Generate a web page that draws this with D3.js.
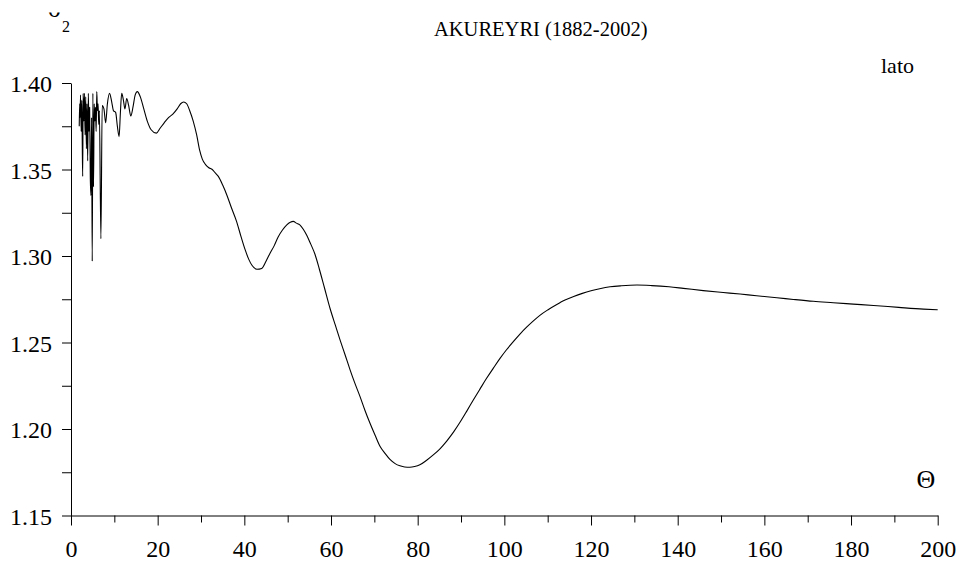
<!DOCTYPE html>
<html>
<head>
<meta charset="utf-8">
<script src="https://cdn.jsdelivr.net/npm/d3@7"></script>
<style>
  body { margin: 0; background: #fff; }
  text { font-family: "Liberation Serif", "Times New Roman", serif; fill: #000; }
</style>
</head>
<body>
<svg id="chart" width="959" height="562"></svg>
<script>
// Lag Θ and the estimated σ₂ for the Akureyri record
const theta = [
  1.9, 2.0, 2.1, 2.2, 2.35, 2.5, 2.6, 2.7, 2.8, 2.95, 3.1, 3.25, 3.4, 3.55, 3.7, 3.85,
  4.0, 4.15, 4.3, 4.45, 4.6, 4.75, 4.9, 5.05, 5.2, 5.35, 5.5, 5.65, 5.8, 5.95, 6.1, 6.25,
  6.4, 6.55, 6.9, 7.2, 7.6, 8.0, 8.4, 8.9, 9.4, 9.8, 10.3, 10.7, 11.1, 11.4, 11.7, 12.1,
  12.45, 12.85, 13.3, 13.8, 14.3, 14.8, 15.3, 16.0, 16.8, 17.6, 18.5, 19.7, 20.6, 21.5,
  22.5, 23.5, 24.5, 25.3, 26.0, 26.7, 27.4, 28.2, 29.0, 29.7, 30.3, 31.0, 31.8, 32.6,
  33.3, 34.0, 35.0, 36.0, 37.0, 38.2, 39.2, 40.2, 41.0, 41.8, 42.9, 44.0, 45.0, 45.9,
  46.9, 47.8, 48.8, 49.8, 50.6, 51.3, 52.0, 52.8, 53.6, 54.4, 55.3, 56.3, 57.3, 58.5,
  59.8, 61.0, 62.1, 63.3, 64.4, 65.5, 66.7, 67.8, 69.0, 70.2, 71.3, 72.5, 73.6, 74.8,
  75.9, 77.0, 78.2, 79.3, 80.5, 82.0, 83.6, 85.2, 86.7, 88.3, 89.8, 91.3, 92.8, 94.4,
  95.9, 97.5, 99.0, 100.5, 102.1, 103.6, 105.2, 106.7, 108.2, 110, 112, 114, 116, 118,
  120, 122, 124.4, 127, 130.6, 134, 138, 141.3, 145.9, 150.5, 154.4, 158.2, 162.9, 166.7,
  171.3, 175.9, 180.5, 185.2, 191, 196.7, 200
];
const sigma2 = [
  1.375, 1.388, 1.380, 1.393, 1.372, 1.390, 1.365, 1.346, 1.394, 1.378, 1.394, 1.370, 1.392, 1.362, 1.388, 1.355,
  1.394, 1.372, 1.386, 1.346, 1.335, 1.380, 1.297, 1.394, 1.340, 1.388, 1.378, 1.386, 1.372, 1.395, 1.384, 1.388,
  1.376, 1.384, 1.310, 1.387, 1.385, 1.377, 1.388, 1.394, 1.389, 1.384, 1.383, 1.375, 1.369, 1.383, 1.394, 1.390,
  1.385, 1.391, 1.387, 1.381, 1.386, 1.393, 1.395, 1.392, 1.385, 1.378, 1.373, 1.371, 1.374, 1.377,
  1.380, 1.382, 1.385, 1.388, 1.389, 1.388, 1.384, 1.378, 1.370, 1.361, 1.356, 1.353, 1.351, 1.350,
  1.348, 1.346, 1.341, 1.335, 1.328, 1.320, 1.3115, 1.3035, 1.2982, 1.2945, 1.2923, 1.2928, 1.297, 1.3015,
  1.306, 1.311, 1.315, 1.318, 1.3195, 1.320, 1.319, 1.318, 1.3155, 1.312, 1.307, 1.301, 1.2925, 1.2815,
  1.2695, 1.260, 1.2514, 1.2425, 1.2342, 1.2265, 1.2187, 1.211, 1.2033, 1.1962, 1.1900, 1.1858, 1.1824, 1.1800,
  1.1787, 1.1780, 1.1779, 1.1783, 1.1793, 1.1818, 1.1850, 1.1887, 1.1930, 1.1983, 1.2040, 1.2102, 1.2166, 1.2232,
  1.2293, 1.2353, 1.2408, 1.2458, 1.2506, 1.2549, 1.2590, 1.2625, 1.2657, 1.2688, 1.2718, 1.2745, 1.2766, 1.2784,
  1.2799, 1.2811, 1.2822, 1.2828, 1.2832, 1.2829, 1.2822, 1.2813, 1.2800, 1.2789, 1.2780, 1.2770, 1.2759, 1.2749,
  1.2738, 1.2730, 1.2722, 1.2714, 1.2703, 1.2693, 1.2689
];
const xMajorTicks = [0, 20, 40, 60, 80, 100, 120, 140, 160, 180, 200];
const xMinorTicks = [10, 30, 50, 70, 90, 110, 130, 150, 170, 190];
const yTicks = [1.15, 1.175, 1.20, 1.225, 1.25, 1.275, 1.30, 1.325, 1.35, 1.375, 1.40];
const yLabelTicks = [1.15, 1.20, 1.25, 1.30, 1.35, 1.40];

const svg = d3.select("#chart");
const x = d3.scaleLinear().domain([0, 200]).range([71, 937.7]);
const y = d3.scaleLinear().domain([1.15, 1.40]).range([515.5, 83]);

// x axis: minor ticks first, then labelled major ticks
const xg = svg.append("g").attr("transform", "translate(0,515.5)");
xg.append("g")
  .call(d3.axisBottom(x).tickValues(xMinorTicks).tickSize(7).tickSizeOuter(0).tickFormat(""))
  .call(g => g.select(".domain").remove());
xg.append("g")
  .call(d3.axisBottom(x).tickValues(xMajorTicks).tickSize(10).tickSizeOuter(0).tickFormat(d3.format("d")))
  .call(g => g.selectAll("text").attr("y", 41).attr("dy", 0).style("font-size", "24px"));

// y axis
svg.append("g")
  .attr("transform", "translate(71,0)")
  .call(d3.axisLeft(y).tickValues(yTicks).tickSize(9).tickSizeOuter(0).tickPadding(10)
    .tickFormat(d => yLabelTicks.some(v => Math.abs(v - d) < 1e-9) ? d3.format(".2f")(d) : ""))
  .call(g => g.selectAll("text").style("font-size", "24px").attr("dy", "0.36em"));

svg.selectAll(".domain, .tick line").attr("stroke", "#000").attr("stroke-width", 1);
svg.selectAll(".tick text").attr("fill", "#000").style("font-family", "'Liberation Serif', serif");

// curve
const pts = theta.map((t, i) => [t, sigma2[i]]);
svg.append("path")
  .datum(pts)
  .attr("fill", "none")
  .attr("stroke", "#000")
  .attr("stroke-width", 1.1)
  .attr("stroke-linejoin", "round")
  .attr("d", d3.line().x(d => x(d[0])).y(d => y(d[1])).curve(d3.curveMonotoneX));

// titles and labels
svg.append("text").attr("x", 434).attr("y", 36).style("font-size", "20.5px")
  .text("AKUREYRI (1882-2002)");
svg.append("text").attr("x", 881).attr("y", 73).style("font-size", "22px").text("lato");
svg.append("text").attr("x", 926).attr("y", 488).attr("text-anchor", "middle")
  .style("font-size", "26px").text("Θ");

// y-axis symbol, top edge trimmed by the frame
svg.append("clipPath").attr("id", "topTrim")
  .append("rect").attr("x", 0).attr("y", 12.5).attr("width", 200).attr("height", 60);
const ylab = svg.append("g").attr("clip-path", "url(#topTrim)");
ylab.append("text").attr("x", 48).attr("y", 17).style("font-size", "25px").text("σ");
ylab.append("text").attr("x", 62).attr("y", 32).style("font-size", "16px").text("2");
</script>
</body>
</html>
